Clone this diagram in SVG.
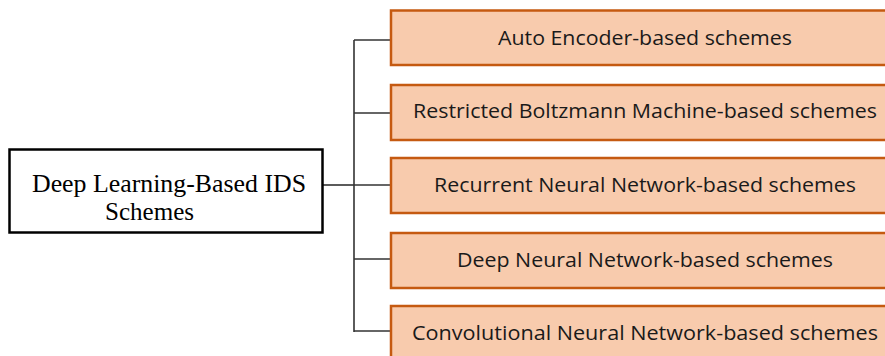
<svg xmlns="http://www.w3.org/2000/svg" width="885" height="356" viewBox="0 0 885 356">
<style>
.cat{fill:#F8CBAD;stroke:#C55A11;stroke-width:2.5}
.ct{font-family:"Open Sans","Liberation Sans",sans-serif;font-size:19.5px;fill:#1a1a1a;text-anchor:middle}
.root{fill:#fff;stroke:#000;stroke-width:2.5}
.rt{font-family:"Liberation Serif",serif;font-size:25px;fill:#000}
.ln{stroke:#333;stroke-width:1.6;fill:none}
</style>
<rect width="885" height="356" fill="#fff"/>
<g id="connectors">
<line class="ln" x1="323" y1="185" x2="354" y2="185"/>
<line class="ln" x1="354" y1="40" x2="354" y2="332"/>
<line class="ln" x1="354" y1="40" x2="390" y2="40"/>
<line class="ln" x1="354" y1="113" x2="390" y2="113"/>
<line class="ln" x1="354" y1="185" x2="390" y2="185"/>
<line class="ln" x1="354" y1="259" x2="390" y2="259"/>
<line class="ln" x1="354" y1="331" x2="390" y2="331"/>
</g>
<g id="root">
<rect class="root" x="9.5" y="149.5" width="313" height="83"/>
<text class="rt" x="32" y="192" textLength="274" lengthAdjust="spacingAndGlyphs">Deep Learning-Based IDS</text>
<text class="rt" x="105" y="220" textLength="89" lengthAdjust="spacingAndGlyphs">Schemes</text>
</g>
<g id="n1">
<rect class="cat" x="391" y="10.5" width="510" height="54.5"/>
<text class="ct" x="645" y="45" textLength="294" lengthAdjust="spacingAndGlyphs">Auto Encoder-based schemes</text>
</g>
<g id="n2">
<rect class="cat" x="391" y="85" width="510" height="55"/>
<text class="ct" x="645" y="118" textLength="464" lengthAdjust="spacingAndGlyphs">Restricted Boltzmann Machine-based schemes</text>
</g>
<g id="n3">
<rect class="cat" x="391" y="158" width="510" height="55"/>
<text class="ct" x="645" y="192" textLength="422" lengthAdjust="spacingAndGlyphs">Recurrent Neural Network-based schemes</text>
</g>
<g id="n4">
<rect class="cat" x="391" y="233" width="510" height="55"/>
<text class="ct" x="645" y="267" textLength="376" lengthAdjust="spacingAndGlyphs">Deep Neural Network-based schemes</text>
</g>
<g id="n5">
<rect class="cat" x="391" y="306" width="510" height="60"/>
<text class="ct" x="645" y="340" textLength="466" lengthAdjust="spacingAndGlyphs">Convolutional Neural Network-based schemes</text>
</g>
</svg>
